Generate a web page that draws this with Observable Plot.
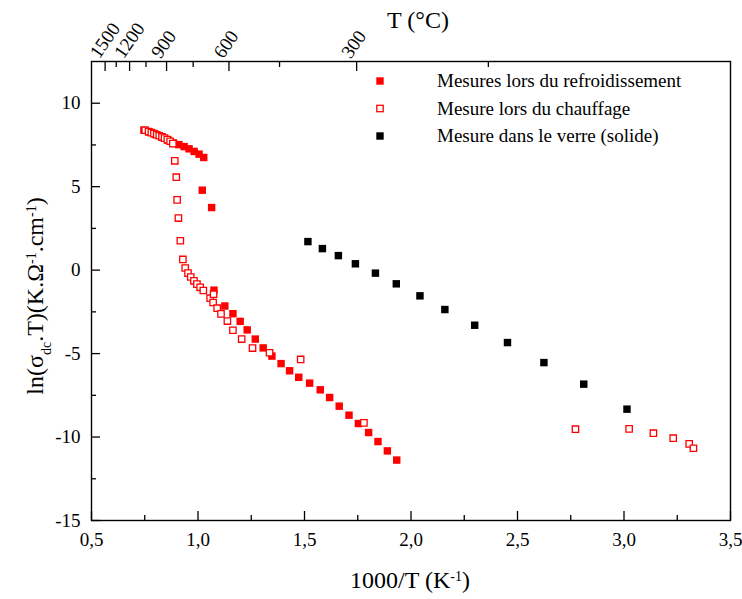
<!DOCTYPE html>
<html><head><meta charset="utf-8">
<script src="https://cdn.jsdelivr.net/npm/d3@7"></script>
<script src="https://cdn.jsdelivr.net/npm/@observablehq/plot@0.6"></script>
<style>
body{margin:0;background:#fff}
svg{font-family:"Liberation Serif","Times New Roman",serif}
</style>
</head><body><div id="chart"></div>
<script>
// Mesures lors du refroidissement (filled red)
const coolX = [0.746,0.77,0.80,0.83,0.86,0.885,0.91,0.935,0.958,0.982,1.005,1.027,1.020,1.064,1.075,1.126,1.164,1.198,1.231,1.269,1.306,1.347,1.390,1.430,1.473,1.524,1.574,1.618,1.663,1.709,1.753,1.801,1.845,1.889,1.933];
const coolY = [8.39,8.28,8.13,7.97,7.78,7.62,7.52,7.40,7.27,7.11,6.95,6.75,4.79,3.75,-1.2,-2.15,-2.61,-3.07,-3.58,-4.13,-4.66,-5.15,-5.60,-6.03,-6.42,-6.77,-7.17,-7.63,-8.15,-8.69,-9.19,-9.73,-10.27,-10.83,-11.38];
// Mesure lors du chauffage (open red)
const heatX = [0.752,0.768,0.781,0.793,0.806,0.818,0.831,0.843,0.856,0.869,0.882,0.891,0.898,0.902,0.908,0.917,0.929,0.940,0.953,0.966,0.981,0.995,1.010,1.025,1.057,1.073,1.071,1.090,1.108,1.138,1.164,1.205,1.256,1.336,1.482,1.779,2.772,3.024,3.138,3.231,3.306,3.326];
const heatY = [8.38,8.30,8.24,8.18,8.11,8.05,7.98,7.91,7.82,7.72,7.58,6.55,5.57,4.21,3.12,1.76,0.64,0.13,-0.18,-0.41,-0.64,-0.84,-1.03,-1.22,-1.68,-1.44,-1.94,-2.28,-2.62,-3.05,-3.60,-4.13,-4.67,-4.95,-5.35,-9.15,-9.53,-9.51,-9.77,-10.07,-10.41,-10.67];
// Mesure dans le verre (solide) (filled black)
const glassX = [1.516,1.584,1.659,1.739,1.833,1.931,2.042,2.159,2.299,2.453,2.624,2.811,3.014];
const glassY = [1.71,1.29,0.87,0.38,-0.18,-0.82,-1.54,-2.36,-3.30,-4.34,-5.54,-6.83,-8.33];

const xMajor = [0.5,1.0,1.5,2.0,2.5,3.0,3.5];
const xMinor = [0.75,1.25,1.75,2.25,2.75,3.25];
const yMajor = [-15,-10,-5,0,5,10];
const yMinor = [-12.5,-7.5,-2.5,2.5,7.5];
const tempMajor = [1500,1200,900,600,300];
const tempMinor = [1350,1050,750,450,150];

const seriesNames = ["Mesures lors du refroidissement","Mesure lors du chauffage","Mesure dans le verre (solide)"];

const toInv = t => 1000 / (t + 273.15);
const cool = coolX.map((x, i) => ({x, y: coolY[i]}));
const heat = heatX.map((x, i) => ({x, y: heatY[i]}));
const glass = glassX.map((x, i) => ({x, y: glassY[i]}));
const comma = d => d.toFixed(1).replace(".", ",");

const chart = Plot.plot({
  width: 742, height: 599,
  marginTop: 61, marginBottom: 79, marginLeft: 91, marginRight: 12,
  style: {fontFamily: "'Liberation Serif', serif", fontSize: "19px", background: "white", color: "black"},
  x: {domain: [0.5, 3.5]},
  y: {domain: [-15, 12.5]},
  marks: [
    Plot.axisX(xMajor, {anchor: "bottom", tickSize: -9, tickPadding: 21, tickFormat: comma, label: null, strokeWidth: 1.3}),
    Plot.axisX(xMinor, {anchor: "bottom", tickSize: -5, tickFormat: () => "", label: null, strokeWidth: 1.3}),
    Plot.axisY(yMajor, {anchor: "left", tickSize: -9, tickPadding: 20, tickFormat: d => String(d), label: null, strokeWidth: 1.3}),
    Plot.axisY(yMinor, {anchor: "left", tickSize: -5, tickFormat: () => "", label: null, strokeWidth: 1.3}),
    Plot.axisX(tempMajor.map(toInv), {anchor: "top", tickSize: -9, tickFormat: () => "", label: null, strokeWidth: 1.3}),
    Plot.axisX(tempMinor.map(toInv), {anchor: "top", tickSize: -5, tickFormat: () => "", label: null, strokeWidth: 1.3}),
    Plot.text(tempMajor, {x: toInv, text: d => String(d), frameAnchor: "top", rotate: -55,
      textAnchor: "start", lineAnchor: "bottom", dx: -6, dy: -2, fontSize: 19, fill: "black"}),
    Plot.frame({stroke: "black", strokeWidth: 1.4}),
    Plot.dot(cool, {x: "x", y: "y", symbol: "square", r: 4.2, fill: "#ff0000", stroke: "none"}),
    Plot.dot(heat, {x: "x", y: "y", symbol: "square", r: 3.6, fill: "white", stroke: "#ff0000", strokeWidth: 1.3}),
    Plot.dot(glass, {x: "x", y: "y", symbol: "square", r: 4.2, fill: "black", stroke: "none"})
  ]
});
document.getElementById("chart").append(chart);

const svg = d3.select(chart);
// axis titles
const bt = svg.append("text").attr("x", 410).attr("y", 588).attr("text-anchor", "middle")
  .style("font-size", "24px").attr("fill", "black");
bt.append("tspan").text("1000/T (K");
bt.append("tspan").attr("baseline-shift", "super").style("font-size", "14px").text("-1");
bt.append("tspan").text(")");

svg.append("text").attr("x", 418).attr("y", 28).attr("text-anchor", "middle")
  .style("font-size", "24px").attr("fill", "black").text("T (°C)");

const yl = svg.append("text").attr("transform", "translate(43,296) rotate(-90)").attr("text-anchor", "middle")
  .style("font-size", "24px").attr("fill", "black");
yl.append("tspan").text("ln(σ");
yl.append("tspan").attr("baseline-shift", "sub").style("font-size", "14px").text("dc");
yl.append("tspan").text(".T)(K.Ω");
yl.append("tspan").attr("baseline-shift", "super").style("font-size", "14px").text("-1");
yl.append("tspan").text(".cm");
yl.append("tspan").attr("baseline-shift", "super").style("font-size", "14px").text("-1");
yl.append("tspan").text(")");

// legend
const leg = svg.append("g").attr("text-anchor", "start");
const legStyles = [
  {fill: "#ff0000", stroke: "none", s: 7.4, sw: 0},
  {fill: "white", stroke: "#ff0000", s: 6.4, sw: 1.3},
  {fill: "black", stroke: "none", s: 7.4, sw: 0}
];
seriesNames.forEach((name, i) => {
  const cy = 81 + i * 27.5;
  const st = legStyles[i];
  leg.append("rect").attr("x", 380 - st.s / 2).attr("y", cy - st.s / 2).attr("width", st.s).attr("height", st.s)
    .attr("fill", st.fill).attr("stroke", st.stroke).attr("stroke-width", st.sw);
  leg.append("text").attr("x", 437).attr("y", cy + 6).attr("text-anchor", "start")
    .style("font-size", "19px").attr("fill", "black").text(name);
});
</script>
</body></html>
